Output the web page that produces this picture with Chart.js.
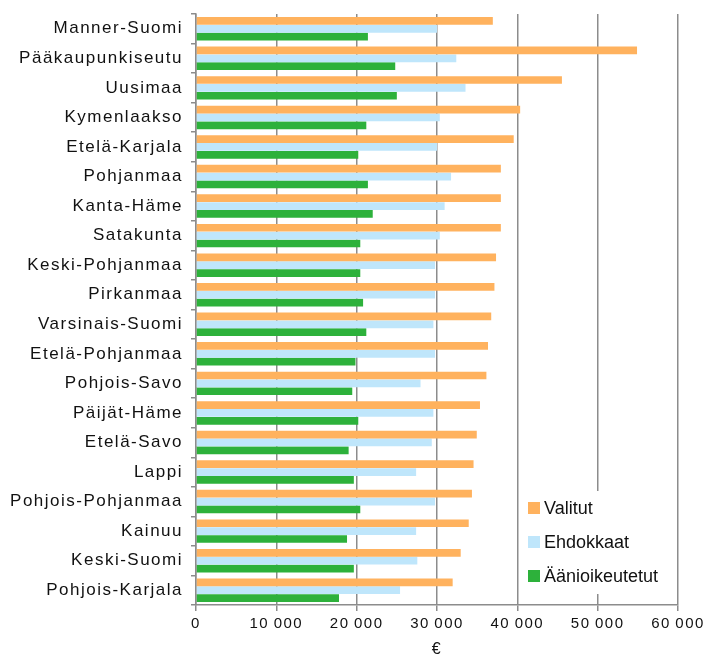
<!DOCTYPE html>
<html>
<head>
<meta charset="utf-8">
<script src="https://cdn.jsdelivr.net/npm/chart.js@4.4.1/dist/chart.umd.min.js"></script>
<style>
  html, body { margin: 0; padding: 0; background: #fff; }
  #wrap { width: 708px; height: 661px; }
</style>
</head>
<body>
<div id="wrap"><canvas id="incomeChart"></canvas></div>
<script>
const regions = ['Manner-Suomi', 'Pääkaupunkiseutu', 'Uusimaa', 'Kymenlaakso', 'Etelä-Karjala',
    'Pohjanmaa', 'Kanta-Häme', 'Satakunta', 'Keski-Pohjanmaa', 'Pirkanmaa', 'Varsinais-Suomi',
    'Etelä-Pohjanmaa', 'Pohjois-Savo', 'Päijät-Häme', 'Etelä-Savo', 'Lappi', 'Pohjois-Pohjanmaa',
    'Kainuu', 'Keski-Suomi', 'Pohjois-Karjala'];
const valitut = [36950, 54900, 45550, 40350, 39550, 37950, 37950, 37950, 37350, 37150, 36750,
    36350, 36150, 35350, 34950, 34550, 34350, 33950, 32950, 31950];
const ehdokkaat = [30000, 32400, 33550, 30350, 30000, 31750, 30950, 30350, 29750, 29750, 29550,
    29750, 27950, 29550, 29350, 27400, 29750, 27400, 27550, 25400];
const aanioikeutetut = [21400, 24800, 25000, 21200, 20200, 21400, 22000, 20450, 20450, 20800, 21200,
    19850, 19450, 20200, 19000, 19650, 20450, 18800, 19650, 17800];
const seriesNames = ['Valitut', 'Ehdokkaat', 'Äänioikeutetut'];
const seriesColors = ['#ffb25e', '#bfe6fb', '#2db13b'];

const fontFamily = '"Liberation Sans", Arial, sans-serif';

// legend drawn inside the plot, bottom right, on a white box
const boxLegend = {
    id: 'boxLegend',
    beforeDraw(chart) {
        chart.ctx.letterSpacing = '1.5px';
    },
    afterDraw(chart) {
        const ctx = chart.ctx;
        const area = chart.chartArea;
        const x = area.right - 156, y = area.bottom - 114;
        ctx.save();
        ctx.letterSpacing = '0px';
        ctx.fillStyle = '#fff';
        ctx.fillRect(x, y, 152, 103);
        ctx.font = '18px ' + fontFamily;
        ctx.textBaseline = 'middle';
        chart.data.datasets.forEach((ds, i) => {
            const cy = y + 17 + i * 34;
            ctx.fillStyle = ds.backgroundColor;
            ctx.fillRect(x + 6, cy - 6, 12, 12);
            ctx.fillStyle = '#111';
            ctx.fillText(ds.label, x + 22, cy + 1);
        });
        ctx.restore();
    }
};

const ctx = document.getElementById('incomeChart').getContext('2d');
const incomeChart = new Chart(ctx, {
    type: 'bar',
    data: {
        labels: regions,
        datasets: [valitut, ehdokkaat, aanioikeutetut].map((d, i) => ({
            label: seriesNames[i],
            data: d,
            backgroundColor: seriesColors[i],
            borderWidth: 0,
            barPercentage: 0.98,
            categoryPercentage: 0.8
        }))
    },
    options: {
        indexAxis: 'y',
        responsive: true,
        maintainAspectRatio: false,
        animation: false,
        layout: { padding: { top: 14, right: 30, left: 0, bottom: 0 } },
        plugins: {
            legend: { display: false },
            tooltip: { enabled: false }
        },
        scales: {
            x: {
                min: 0,
                max: 60000,
                ticks: {
                    stepSize: 10000,
                    color: '#111',
                    padding: 4,
                    font: { size: 15, family: fontFamily },
                    callback: v => v.toLocaleString('fi-FI').replace(/\s/g, '\u2009')
                },
                grid: { color: '#8c8c8c', lineWidth: 1.5, tickLength: 6 },
                border: { color: '#8c8c8c', width: 1.5 },
                title: {
                    display: true,
                    text: '€',
                    color: '#111',
                    font: { size: 16, family: fontFamily },
                    padding: { top: 2, bottom: 2 }
                },
                afterFit(scale) { scale.height = 56; }
            },
            y: {
                ticks: {
                    color: '#111',
                    padding: 8,
                    autoSkip: false,
                    font: { size: 17, family: fontFamily }
                },
                grid: { drawOnChartArea: false, color: '#8c8c8c', lineWidth: 1.5, tickLength: 5, offset: true },
                border: { color: '#8c8c8c', width: 1.5 },
                afterFit(scale) {
                    scale.width = 196;
                    scale.paddingTop = 0;
                    scale.paddingBottom = 0;
                }
            }
        }
    },
    plugins: [boxLegend]
});
</script>
</body>
</html>
